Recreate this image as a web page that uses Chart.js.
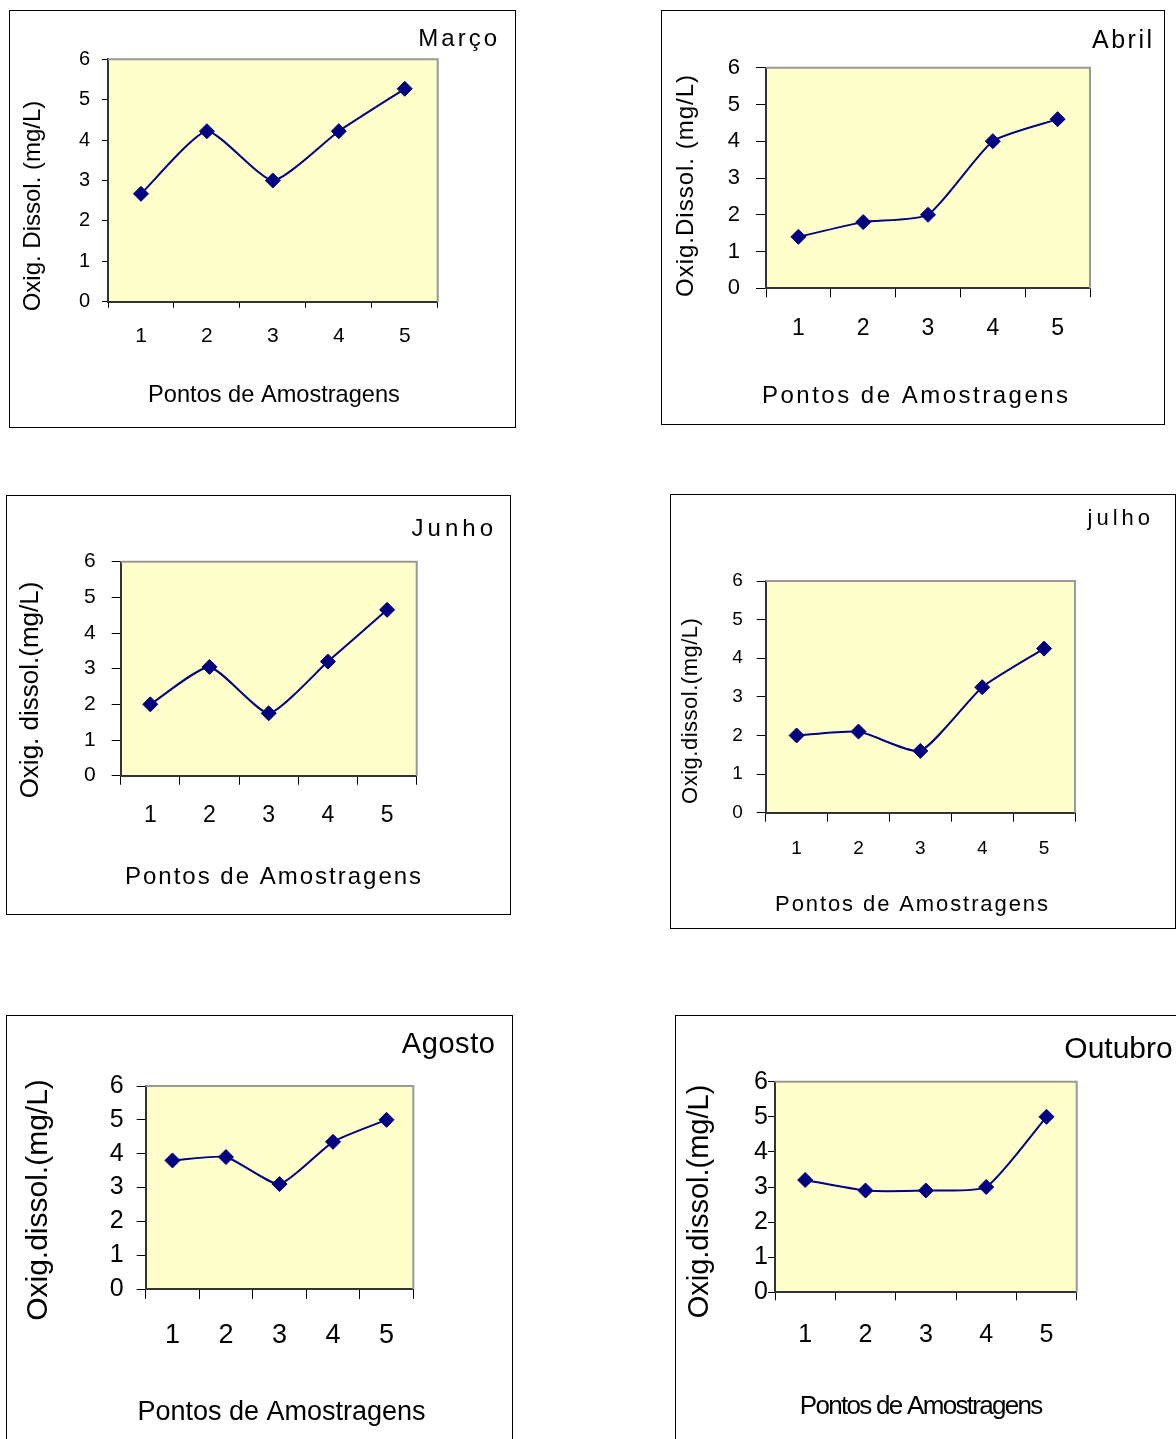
<!DOCTYPE html>
<html lang="pt">
<head>
<meta charset="utf-8">
<title>Oxigênio dissolvido por ponto de amostragem</title>
<script src="https://cdn.jsdelivr.net/npm/chart.js@4/dist/chart.umd.min.js"></script>
<style>
  html, body { margin: 0; padding: 0; background: #fff; overflow: hidden; }
  body { position: relative; width: 1176px; height: 1439px; }
  .painel { position: absolute; box-sizing: border-box; border: 1px solid #000; background: #fff; }
  .painel canvas { position: absolute; left: 0; top: 0; }
</style>
</head>
<body>
<script>
// Pontos de amostragem (categorias do eixo X)
const pontos = ['1', '2', '3', '4', '5'];

// Oxigênio dissolvido (mg/L) em cada ponto, por mês
const marco   = [2.67, 4.22, 3.0, 4.22, 5.27];
const abril   = [1.4, 1.8, 2.0, 4.0, 4.6];
const junho   = [2.0, 3.05, 1.75, 3.2, 4.65];
const julho   = [2.0, 2.1, 1.6, 3.25, 4.25];
const agosto  = [3.8, 3.9, 3.1, 4.35, 5.0];
const outubro = [3.2, 2.9, 2.9, 3.0, 5.0];

// Títulos e rótulos
const meses = ['Março', 'Abril', 'Junho', 'julho', 'Agosto', 'Outubro'];
const rotulosY = [
  'Oxig. Dissol. (mg/L)',
  'Oxig.Dissol. (mg/L)',
  'Oxig. dissol.(mg/L)',
  'Oxig.dissol.(mg/L)',
  'Oxig.dissol.(mg/L)',
  'Oxig.dissol.(mg/L)'
];
const rotuloX = 'Pontos de Amostragens';

// Escala do eixo Y (mg/L)
const yMin = 0;
const yMax = 6;
const yPasso = 1;

const series = [marco, abril, junho, julho, agosto, outubro];

// Disposição de cada painel na página (coordenadas em px)
const FONTE = "'Liberation Sans', Arial, Helvetica, sans-serif";
const disposicao = [
  { box: [9, 10, 507, 418],   plot: [108, 59.3, 437.7, 301.7],
    yTick: { size: 20, len: 6, pad: 12 },   xTick: { size: 21, len: 6, pad: 16 },
    titulo: { x: 497, y: 46, size: 24, sp: 3 },
    tituloY: { x: 33, y: 206, size: 24, sp: 0 },
    tituloX: { x: 274, y: 402, size: 23.6, sp: 0 } },
  { box: [661, 10, 504, 415], plot: [766, 67.7, 1090, 288.3],
    yTick: { size: 22, len: 10, pad: 16 },  xTick: { size: 23, len: 9, pad: 18 },
    titulo: { x: 1152, y: 48, size: 25, sp: 2.5 },
    tituloY: { x: 686, y: 186, size: 24, sp: 1 },
    tituloX: { x: 915, y: 403, size: 24, sp: 2.5 } },
  { box: [6, 495, 505, 420],  plot: [120.7, 561.7, 416.7, 775.7],
    yTick: { size: 21, len: 9, pad: 16 },   xTick: { size: 23, len: 9, pad: 17 },
    titulo: { x: 493, y: 536, size: 24, sp: 4 },
    tituloY: { x: 31, y: 690, size: 26, sp: 0 },
    tituloX: { x: 273, y: 884, size: 24, sp: 2 } },
  { box: [670, 494, 506, 435], plot: [765.7, 581, 1075, 812.7],
    yTick: { size: 19, len: 9, pad: 14 },   xTick: { size: 19, len: 9, pad: 16 },
    titulo: { x: 1150, y: 525, size: 22, sp: 4 },
    tituloY: { x: 691, y: 711, size: 22, sp: 0.5 },
    tituloX: { x: 911.5, y: 910.7, size: 22, sp: 1.9 } },
  { box: [6, 1015, 507, 440], plot: [145.7, 1086, 413.3, 1289],
    yTick: { size: 25, len: 9, pad: 13 },   xTick: { size: 27, len: 10, pad: 20 },
    titulo: { x: 495, y: 1052.7, size: 29, sp: 0.6 },
    tituloY: { x: 39, y: 1200, size: 30, sp: 0 },
    tituloX: { x: 281.5, y: 1420, size: 27, sp: 0 } },
  { box: [675, 1015, 520, 440], plot: [775, 1081.7, 1076.7, 1292.3],
    yTick: { size: 25, len: 7, pad: 0 },    xTick: { size: 25, len: 8, pad: 19.5 },
    titulo: { x: 1172.7, y: 1057.7, size: 30, sp: 0 },
    tituloY: { x: 700, y: 1201.5, size: 29, sp: 0 },
    tituloX: { x: 921.5, y: 1414, size: 26, sp: -1.7 } }
];

// Fundo amarelo da área de plotagem e moldura cinza (topo e direita)
const molduraPlot = {
  id: 'molduraPlot',
  beforeDraw(chart) {
    const a = chart.chartArea, ctx = chart.ctx;
    ctx.save();
    ctx.fillStyle = '#FFFFCC';
    ctx.fillRect(a.left, a.top, a.right - a.left, a.bottom - a.top);
    ctx.restore();
  },
  beforeDatasetsDraw(chart) {
    const a = chart.chartArea, ctx = chart.ctx;
    ctx.save();
    ctx.strokeStyle = '#999999';
    ctx.lineWidth = 2;
    ctx.beginPath();
    ctx.moveTo(a.left, a.top);
    ctx.lineTo(a.right, a.top);
    ctx.lineTo(a.right, a.bottom);
    ctx.stroke();
    ctx.restore();
  }
};

// Título do mês e títulos dos eixos
const textos = {
  id: 'textos',
  afterDraw(chart, args, opts) {
    const ctx = chart.ctx;
    const ox = opts.ox, oy = opts.oy;
    const escreve = (t, cfg, align, base, rot) => {
      ctx.save();
      ctx.font = cfg.size + 'px ' + FONTE;
      ctx.fillStyle = '#000';
      if ('letterSpacing' in ctx) ctx.letterSpacing = cfg.sp + 'px';
      ctx.textBaseline = base;
      ctx.translate(cfg.x - ox, cfg.y - oy);
      if (rot) ctx.rotate(-Math.PI / 2);
      ctx.textAlign = 'left';
      const w = ctx.measureText(t).width;
      let x0 = 0;
      if (align === 'center') x0 = -w / 2 + cfg.sp / 2;
      else if (align === 'right') x0 = -w + cfg.sp;
      ctx.fillText(t, x0, 0);
      ctx.restore();
    };
    escreve(opts.titulo, opts.tituloCfg, 'right', 'alphabetic', false);
    escreve(opts.rotY, opts.tituloYCfg, 'center', 'middle', true);
    escreve(opts.rotX, opts.tituloXCfg, 'center', 'alphabetic', false);
  }
};

series.forEach((valores, i) => {
  const d = disposicao[i];
  const [bx, by, bw, bh] = d.box;
  const W = bw - 2, H = bh - 2;
  const ox = bx + 1, oy = by + 1;
  const pl = d.plot[0] - ox, pt = d.plot[1] - oy, pr = d.plot[2] - ox, pb = d.plot[3] - oy;

  const div = document.createElement('div');
  div.className = 'painel';
  div.style.left = bx + 'px';
  div.style.top = by + 'px';
  div.style.width = bw + 'px';
  div.style.height = bh + 'px';
  const cv = document.createElement('canvas');
  cv.width = W; cv.height = H;
  cv.style.width = W + 'px'; cv.style.height = H + 'px';
  div.appendChild(cv);
  document.body.appendChild(div);

  new Chart(cv, {
    type: 'line',
    data: {
      labels: pontos,
      datasets: [{
        label: meses[i],
        data: valores,
        borderColor: '#000080',
        borderWidth: 2,
        backgroundColor: '#000080',
        pointStyle: 'rectRot',
        pointRadius: 7.5,
        pointBackgroundColor: '#000080',
        pointBorderColor: '#000080',
        pointBorderWidth: 1,
        tension: 0.18,
        fill: false
      }]
    },
    options: {
      responsive: false,
      animation: false,
      devicePixelRatio: 1,
      events: [],
      layout: { padding: { left: 0, top: pt, right: W - pr, bottom: 0 } },
      plugins: {
        legend: { display: false },
        tooltip: { enabled: false },
        title: { display: false },
        textos: {
          ox, oy,
          titulo: meses[i], tituloCfg: d.titulo,
          rotY: rotulosY[i], tituloYCfg: d.tituloY,
          rotX: rotuloX, tituloXCfg: d.tituloX
        }
      },
      scales: {
        x: {
          type: 'category',
          offset: true,
          grid: { offset: true, drawOnChartArea: false, drawTicks: true,
                  tickLength: d.xTick.len, color: '#000', lineWidth: 1 },
          border: { display: true, color: '#333', width: 2 },
          ticks: { color: '#000', font: { family: FONTE, size: d.xTick.size },
                   padding: d.xTick.pad, maxRotation: 0, autoSkip: false },
          afterFit(s) { s.height = H - pb; }
        },
        y: {
          min: yMin, max: yMax,
          grid: { drawOnChartArea: false, drawTicks: true,
                  tickLength: d.yTick.len, color: '#000', lineWidth: 1 },
          border: { display: true, color: '#333', width: 2 },
          ticks: { stepSize: yPasso, color: '#000',
                   font: { family: FONTE, size: d.yTick.size }, padding: d.yTick.pad },
          afterFit(s) { s.width = pl; }
        }
      }
    },
    plugins: [molduraPlot, textos]
  });
});
</script>
</body>
</html>
